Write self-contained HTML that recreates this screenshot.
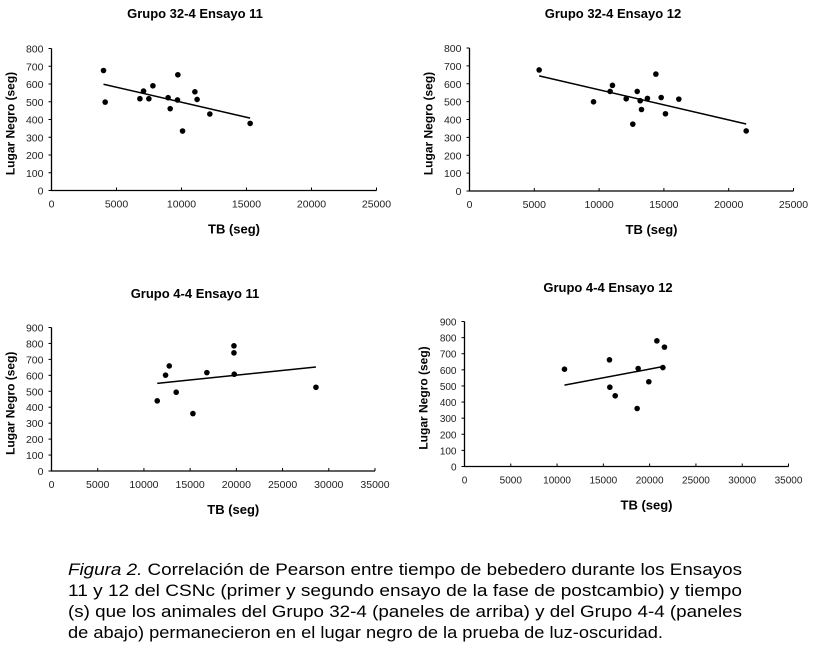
<!DOCTYPE html>
<html><head><meta charset="utf-8">
<style>
html,body{margin:0;padding:0;background:#fff;}
svg{display:block;font-family:"Liberation Sans",Arial,sans-serif;}
</style></head>
<body>
<svg id="fig" width="815" height="649" viewBox="0 0 815 649" xmlns="http://www.w3.org/2000/svg">
<g id="caption" font-size="17" fill="#000">
<text x="68" y="575" textLength="674" lengthAdjust="spacingAndGlyphs"><tspan font-style="italic">Figura 2.</tspan> Correlación de Pearson entre tiempo de bebedero durante los Ensayos</text>
<text x="68" y="596" textLength="674" lengthAdjust="spacingAndGlyphs">11 y 12 del CSNc (primer y segundo ensayo de la fase de postcambio) y tiempo</text>
<text x="68" y="617" textLength="674" lengthAdjust="spacingAndGlyphs">(s) que los animales del Grupo 32-4 (paneles de arriba) y del Grupo 4-4 (paneles</text>
<text x="68" y="638" textLength="595" lengthAdjust="spacingAndGlyphs">de abajo) permanecieron en el lugar negro de la prueba de luz-oscuridad.</text>
</g>
</svg>
<script>
// Panel 1: Grupo 32-4 Ensayo 11
const p1X = [4000,4130,6800,7080,7490,7800,8970,9130,9690,9720,10080,11030,11200,12180,15280];
const p1Y = [676,498,517,560,517,590,523,461,510,652,335,556,513,431,378];
// Panel 2: Grupo 32-4 Ensayo 12
const p2X = [5375,9570,10850,11030,12090,12600,12940,13170,13270,13730,14380,14790,15120,16150,21350];
const p2Y = [677,499,557,591,516,374,557,505,456,518,654,523,432,514,336];
// Panel 3: Grupo 4-4 Ensayo 11
const p3X = [11440,12340,12740,13490,15300,16810,19740,19740,19770,28610];
const p3Y = [440,601,659,494,360,617,785,741,607,525];
// Panel 4: Grupo 4-4 Ensayo 12
const p4X = [10800,15660,15700,16280,18760,18650,19910,20780,21600,21430];
const p4Y = [604,662,492,439,608,360,526,780,741,614];
// Tick labels
const xTicks25 = [0,5000,10000,15000,20000,25000];
const xTicks35 = [0,5000,10000,15000,20000,25000,30000,35000];
const yTicks800 = [0,100,200,300,400,500,600,700,800];
const yTicks900 = [0,100,200,300,400,500,600,700,800,900];
const titles = ["Grupo 32-4 Ensayo 11","Grupo 32-4 Ensayo 12","Grupo 4-4 Ensayo 11","Grupo 4-4 Ensayo 12"];

const NS="http://www.w3.org/2000/svg";
const svg=document.getElementById('fig');
function mk(tag,attrs,parent){const e=document.createElementNS(NS,tag);for(const k in attrs)e.setAttribute(k,attrs[k]);(parent||svg).appendChild(e);return e;}

function panel(idx,xs,ys,xt,yt,L,R,B,T,tcx,ty,tfs){
  const g=mk('g',{});
  
  
  const xmax=xt[xt.length-1], ymax=yt[yt.length-1];
  const sx=v=>L+(R-L)*v/xmax, sy=v=>B-(B-T)*v/ymax;
  const t=mk('text',{x:tcx,y:ty,'text-anchor':'middle','font-size':13,'font-weight':'bold'},g);t.textContent=titles[idx];
  
  
  const ax=mk('path',{d:`M${L},${T}V${B}H${R}`,stroke:'#000','stroke-width':1.3,fill:'none'},g);
  
  
  yt.forEach(v=>{
    mk('line',{x1:L-3,x2:L,y1:sy(v),y2:sy(v),stroke:'#000'},g);
    const tl=mk('text',{x:L-8,y:sy(v)+4,'text-anchor':'end','font-size':tfs,fill:'#222'},g);tl.textContent=v;
    
    
  });
  xt.forEach(v=>{
    mk('line',{x1:sx(v),x2:sx(v),y1:B,y2:B-3,stroke:'#000'},g);
    const tl=mk('text',{x:sx(v),y:B+17,'text-anchor':'middle','font-size':tfs,fill:'#222'},g);tl.textContent=v;
    
    
  });
  const xl=mk('text',{x:(L+R)/2+20,y:B+43,'text-anchor':'middle','font-size':13,'font-weight':'bold'},g);xl.textContent='TB (seg)';
  
  
  const yc=(T+B)/2+4, yx=L-37;
  const yl=mk('text',{x:yx,y:yc,'text-anchor':'middle','font-size':12,'font-weight':'bold',transform:`rotate(-90 ${yx} ${yc})`},g);yl.textContent='Lugar Negro (seg)';
  
  
  const n=xs.length;let mx=0,my=0;xs.forEach((v,i)=>{mx+=v;my+=ys[i];});mx/=n;my/=n;
  let sxy=0,sxx=0;xs.forEach((v,i)=>{sxy+=(v-mx)*(ys[i]-my);sxx+=(v-mx)*(v-mx);});
  const b=sxy/sxx,a=my-b*mx;const x0=Math.min(...xs),x1=Math.max(...xs);
  const tr=mk('line',{x1:sx(x0),y1:sy(a+b*x0),x2:sx(x1),y2:sy(a+b*x1),stroke:'#000','stroke-width':1.5},g);
  
  
  xs.forEach((v,i)=>{
    const c=mk('circle',{cx:sx(v),cy:sy(ys[i]),r:2.8,fill:'#000'},g);
    
    
  });
}
panel(0,p1X,p1Y,xTicks25,yTicks800,51.5,376.5,190.5,48.5,195,18,10.5);
panel(1,p2X,p2Y,xTicks25,yTicks800,469.5,793.5,191,48,613,18,10.5);
panel(2,p3X,p3Y,xTicks35,yTicks900,51.5,375,471,327.5,195,298,10.5);
panel(3,p4X,p4Y,xTicks35,yTicks900,464.5,788.5,466.5,321.5,608,292,10);
</script>
</body></html>
